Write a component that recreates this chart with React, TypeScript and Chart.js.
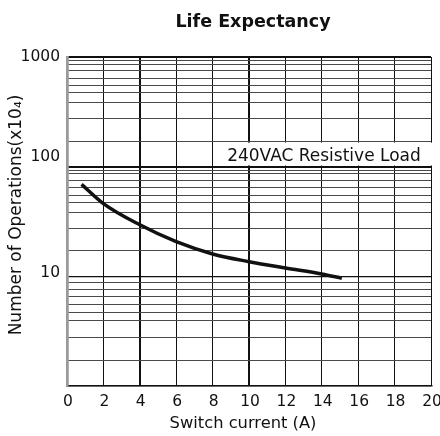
import React, { useEffect, useRef } from 'react';
import { Chart, registerables } from 'chart.js';

Chart.register(...registerables);

// ---- data ----
const currentA = [0.8, 2, 4, 6, 8, 10, 12, 14, 15.1];
const operations = [69, 46, 29.5, 20.7, 16, 13.6, 11.9, 10.5, 9.6];

const xTickValues = [0, 2, 4, 6, 8, 10, 12, 14, 16, 18, 20];
const yLabelValues = [10, 100, 1000];
const yLabelTexts = ['10', '100', '1000'];
const yLabelBaselineOffsets = [0.7, -5.3, 3.7];

// irregular datasheet grid (multipliers per decade)
const minorStepsLow = [1.72, 2.79, 3.92, 4.7, 5.55, 6.5, 7.59, 8.7];
const minorStepsHigh = [1.71, 2.75, 3.83, 4.71, 5.5, 6.42, 7.5, 8.6, 9.3];
const decadeStarts = [1, 10, 100];

const titleText = 'Life Expectancy';
const xTitleText = 'Switch current (A)';
const yTitleText = 'Number of Operations(x10\u2084)';
const noteText = '240VAC Resistive Load';

const yGridValues: number[] = [1];
decadeStarts.forEach((d, i) => {
  const steps = i === 0 ? minorStepsLow : minorStepsHigh;
  steps.forEach((m) => yGridValues.push(+(m * d).toFixed(3)));
  yGridValues.push(d * 10);
});

const FONT = 'DejaVu Sans';
const INK = '#111';

const textPlugin = {
  id: 'sheetTexts',
  afterDraw(chart: any) {
    const { ctx, chartArea, scales } = chart;
    const xs = scales.x;
    const ys = scales.y;
    const mid = (chartArea.left + chartArea.right) / 2;
    ctx.save();

    // white box behind note
    const boxLeft = xs.getPixelForValue(8.6);
    const boxTop = ys.getPixelForValue(171) + 1.5;
    const boxBottom = ys.getPixelForValue(100) - 1.2;
    ctx.fillStyle = '#fff';
    ctx.fillRect(boxLeft, boxTop, chartArea.right + 2 - boxLeft, boxBottom - boxTop);

    ctx.fillStyle = INK;
    ctx.textBaseline = 'alphabetic';

    // note
    ctx.font = `17px "${FONT}"`;
    ctx.textAlign = 'left';
    ctx.fillText(noteText, xs.getPixelForValue(8.8), ys.getPixelForValue(100) - 5.3);

    // y tick labels
    ctx.font = `15.5px "${FONT}"`;
    ctx.textAlign = 'right';
    yLabelValues.forEach((v, i) => {
      ctx.fillText(yLabelTexts[i], chartArea.left - 7, ys.getPixelForValue(v) + yLabelBaselineOffsets[i]);
    });

    // x tick labels
    ctx.textAlign = 'center';
    xTickValues.forEach((v) => {
      ctx.fillText(String(v), xs.getPixelForValue(v) + 1, chartArea.bottom + 20.3);
    });

    // title
    ctx.font = `bold 17.5px "${FONT}"`;
    ctx.fillText(titleText, mid + 4, chartArea.top - 30.3);

    // x title
    ctx.font = `16.3px "${FONT}"`;
    ctx.fillText(xTitleText, mid - 6, chartArea.bottom + 42);

    // y title
    ctx.save();
    ctx.translate(chartArea.left - 46, (chartArea.top + chartArea.bottom) / 2 - 6.5);
    ctx.rotate(-Math.PI / 2);
    ctx.font = `17px "${FONT}"`;
    ctx.textAlign = 'center';
    ctx.fillText(yTitleText, 0, 0);
    ctx.restore();

    ctx.restore();
  },
};

export default function App() {
  const canvasRef = useRef<HTMLCanvasElement | null>(null);

  useEffect(() => {
    if (!canvasRef.current) return;
    Chart.defaults.font.family = FONT;
    const chart = new Chart(canvasRef.current, {
      type: 'line',
      data: {
        datasets: [
          {
            data: currentA.map((x, i) => ({ x, y: operations[i] })),
            borderColor: INK,
            borderWidth: 3.5,
            pointRadius: 0,
            cubicInterpolationMode: 'monotone',
            fill: false,
          },
        ],
      },
      options: {
        animation: false,
        responsive: true,
        maintainAspectRatio: false,
        devicePixelRatio: 1,
        layout: { padding: { top: 57, right: 9, left: 0, bottom: 0 } },
        plugins: {
          legend: { display: false },
          title: { display: false },
          tooltip: { enabled: false },
        },
        scales: {
          x: {
            type: 'linear',
            min: 0,
            max: 20,
            afterBuildTicks: (scale: any) => {
              scale.ticks = xTickValues.map((v) => ({ value: v }));
            },
            afterFit: (scale: any) => {
              scale.height = 50;
            },
            ticks: { display: false },
            grid: {
              drawTicks: false,
              color: (c: any) => (c.tick && c.tick.value === 0 ? '#9a9a9a' : INK),
              lineWidth: (c: any) => {
                const v = c.tick ? c.tick.value : -1;
                if (v === 0) return 2.5;
                if (v === 4 || v === 10) return 2;
                return 1;
              },
            },
            border: { display: true, color: INK, width: 1.5 },
          },
          y: {
            type: 'logarithmic',
            min: 1,
            max: 1000,
            afterBuildTicks: (scale: any) => {
              scale.ticks = yGridValues.map((v) => ({ value: v }));
            },
            afterFit: (scale: any) => {
              scale.width = 67;
            },
            ticks: { display: false },
            grid: {
              drawTicks: false,
              color: (c: any) => {
                const v = c.tick ? c.tick.value : 0;
                return [1, 10, 100, 1000].includes(v) ? INK : '#4a4a4a';
              },
              lineWidth: (c: any) => {
                const v = c.tick ? c.tick.value : 0;
                if (v === 100 || v === 1000) return 2;
                if (v === 10 || v === 1) return 1.3;
                return 1;
              },
            },
            border: { display: true, color: '#9a9a9a', width: 2.5 },
          },
        },
      },
      plugins: [textPlugin],
    } as any);
    return () => chart.destroy();
  }, []);

  return (
    <div style={{ position: 'fixed', left: 0, top: 0, width: 440, height: 436, background: '#fff' }}>
      <canvas ref={canvasRef} />
    </div>
  );
}
